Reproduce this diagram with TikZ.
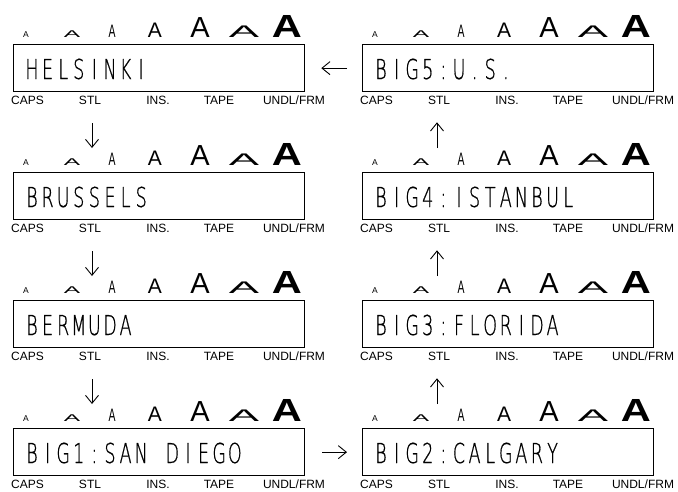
\documentclass[tikz,border=0pt]{standalone}
\usepackage{fontspec}
\usepackage{graphicx}
\usepackage{tikz}
\usetikzlibrary{arrows.meta,calc}
\newfontfamily\capfont{Liberation Sans}
\newfontfamily\lcdfont[FakeStretch=0.64,FakeBold=0.6]{DejaVu Sans ExtraLight}

% fixed-pitch cells for the display text (~ stands for a blank cell)
\newcommand{\lcdcell}[1]{\makebox[15.6pt][c]{#1}}
\def\lcdstr#1{\ifx#1\relax\else\lcdcell{#1}\expandafter\lcdstr\fi}

% one display panel: A-row, box with text, key labels below
\newcommand{\lcdpanel}[4]{%
  \node[lcdbox] (#1) at (#2,#3) {};
  \node[lcdtext] (#1-txt) at ($(#1.north west)+(11,35)$) {\lcdstr #4\relax};
  \node[glyph,font=\capfont\fontsize{8.5}{9}\selectfont] (#1-a1) at ($(#1.north west)+(13,-7)$) {A};
  \node[glyph,font=\capfont\fontsize{9.8}{10}\selectfont] (#1-a2) at ($(#1.north west)+(59,-7)$) {\scalebox{2.5}[1]{A}};
  \node[glyph,font=\capfont\fontsize{18}{18}\selectfont] (#1-a3) at ($(#1.north west)+(99,-7)$) {\scalebox{0.58}[1]{A}};
  \node[glyph,font=\capfont\fontsize{21}{21}\selectfont] (#1-a4) at ($(#1.north west)+(142,-7)$) {A};
  \node[glyph,font=\capfont\fontsize{29}{29}\selectfont] (#1-a5) at ($(#1.north west)+(187,-7)$) {A};
  \node[glyph,font=\capfont\fontsize{16.8}{17}\selectfont] (#1-a6) at ($(#1.north west)+(231,-7)$) {\scalebox{2.7}[1]{A}};
  \node[glyph,font=\capfont\bfseries\fontsize{32}{32}\selectfont] (#1-a7) at ($(#1.north west)+(274,-7)$) {\scalebox{1.3}[1]{A}};
  \node[lbl,anchor=base west] (#1-caps) at ($(#1.south west)+(-2,12)$) {CAPS};
  \node[lbl] (#1-stl) at ($(#1.south west)+(77,12)$) {STL};
  \node[lbl] (#1-ins) at ($(#1.south west)+(145,12)$) {INS.};
  \node[lbl] (#1-tape) at ($(#1.south west)+(206,12)$) {TAPE};
  \node[lbl] (#1-frm) at ($(#1.south west)+(281,12)$) {UNDL/FRM};
}

\begin{document}
\begin{tikzpicture}[
  x=1pt,y=-1pt,
  lcdbox/.style={draw,line width=1.3pt,minimum width=291pt,minimum height=47pt,inner sep=0pt,anchor=north west},
  lcdtext/.style={font=\lcdfont\fontsize{27.4}{28}\selectfont,inner sep=0pt,anchor=base west},
  glyph/.style={inner sep=0pt,anchor=base},
  lbl/.style={font=\capfont\fontsize{12}{12}\selectfont,inner sep=0pt,anchor=base},
  arr/.style={-{Straight Barb[length=8pt,width=13pt]},line width=0.9pt}
]
\useasboundingbox (0,0) rectangle (678,491);

\lcdpanel{hel}{13}{44}{HELSINKI}
\lcdpanel{bru}{13}{172}{BRUSSELS}
\lcdpanel{ber}{13}{300}{BERMUDA}
\lcdpanel{big1}{13}{428}{BIG1:SAN~DIEGO}
\lcdpanel{big2}{362}{428}{BIG2:CALGARY}
\lcdpanel{big3}{362}{300}{BIG3:FLORIDA}
\lcdpanel{big4}{362}{172}{BIG4:ISTANBUL}
\lcdpanel{big5}{362}{44}{BIG5:U.S.}

% left column, downwards
\draw[arr] ($(hel.south west)+(79,31)$) -- ($(bru.north west)+(79,-24)$);
\draw[arr] ($(bru.south west)+(79,31)$) -- ($(ber.north west)+(79,-24)$);
\draw[arr] ($(ber.south west)+(79,31)$) -- ($(big1.north west)+(79,-24)$);
\draw[arr,shorten <=17pt,shorten >=15pt] (big1) -- (big2);
% right column, upwards
\draw[arr] ($(big2.north west)+(75,-24)$) -- ($(big3.south west)+(75,30)$);
\draw[arr] ($(big3.north west)+(75,-24)$) -- ($(big4.south west)+(75,30)$);
\draw[arr] ($(big4.north west)+(75,-24)$) -- ($(big5.south west)+(75,30)$);
\draw[arr,shorten <=15pt,shorten >=16pt] (big5) -- (hel);
\end{tikzpicture}
\end{document}
